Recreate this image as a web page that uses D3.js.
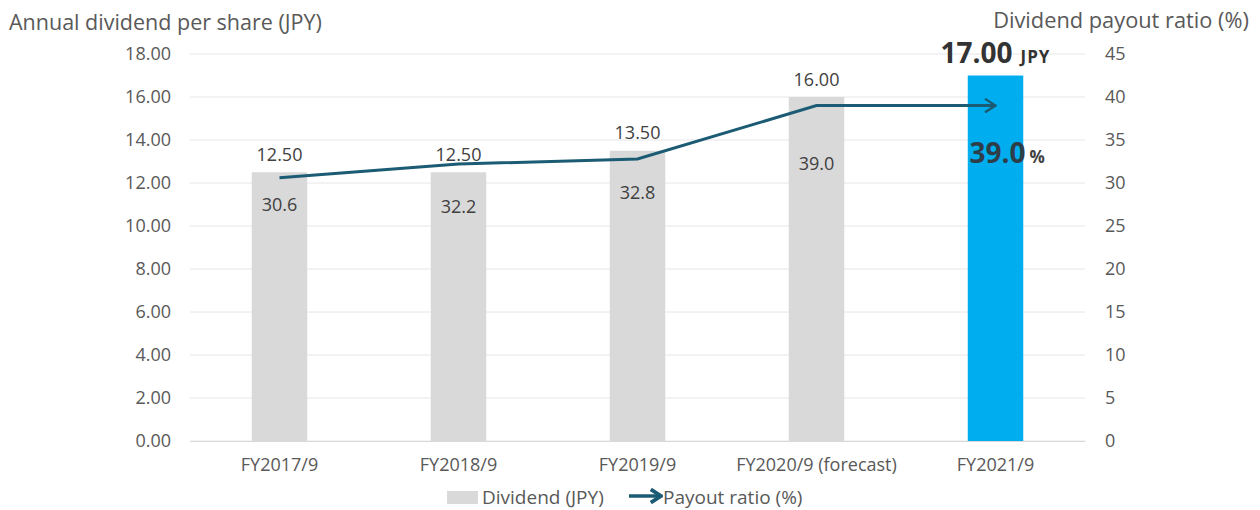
<!DOCTYPE html>
<html><head><meta charset="utf-8">
<script src="https://cdn.jsdelivr.net/npm/d3@7"></script>
<style>
body{margin:0;background:#fff;}
text{font-family:"Open Sans","Noto Sans",sans-serif;}
</style></head>
<body><svg id="c" width="1260" height="510"></svg>
<script>
const categories = ["FY2017/9","FY2018/9","FY2019/9","FY2020/9 (forecast)","FY2021/9"];
const dividends = [12.50, 12.50, 13.50, 16.00, 17.00];
const payout = [30.6, 32.2, 32.8, 39.0, 39.0];
const leftTicks = [0,2,4,6,8,10,12,14,16,18];
const rightTicks = [0,5,10,15,20,25,30,35,40,45];
const ratioLabelOffsets = [33, 49, 40, 64]; // label baseline displacement below line (px)

const svg = d3.select("#c");
const L = 190, R = 1085, T = 54, B = 441;
const x = d3.scaleBand().domain(categories).range([L, R]).paddingInner(0.69).paddingOuter(0.345);
const yL = d3.scaleLinear().domain([0,18]).range([B,T]);
const yR = d3.scaleLinear().domain([0,45]).range([B,T]);
const grey = "#595959", lab = "#404040", lineCol = "#1b5b73";
const FF = "'Open Sans',sans-serif";

// gridlines
svg.append("g").selectAll("line").data(leftTicks).join("line")
  .attr("x1", L).attr("x2", R).attr("y1", d=>yL(d)).attr("y2", d=>yL(d))
  .attr("stroke", "#e6e6e6").attr("stroke-width", 1);

// left axis
const gl = svg.append("g").attr("transform", `translate(${L},0)`)
  .call(d3.axisLeft(yL).tickValues(leftTicks).tickFormat(d3.format(".2f")).tickSize(0).tickPadding(19));
gl.select(".domain").remove();
gl.selectAll("text").attr("font-size", 18).attr("fill", grey).attr("font-family", FF);

// right axis
const gr = svg.append("g").attr("transform", `translate(${R},0)`)
  .call(d3.axisRight(yR).tickValues(rightTicks).tickSize(0).tickPadding(20));
gr.select(".domain").remove();
gr.selectAll("text").attr("font-size", 18).attr("fill", grey).attr("font-family", FF);

// x axis
const gx = svg.append("g").attr("transform", `translate(0,${B})`)
  .call(d3.axisBottom(x).tickSize(0).tickPadding(17));
gx.select(".domain").attr("stroke", "#d9d9d9");
gx.selectAll("text").attr("font-size", 18).attr("fill", grey).attr("font-family", FF);

// titles
svg.append("text").attr("x", 9).attr("y", 30).attr("font-size", 21.5).attr("fill", grey)
  .text("Annual dividend per share (JPY)");
svg.append("text").attr("x", 1249).attr("y", 28).attr("text-anchor", "end").attr("font-size", 21.8).attr("fill", grey)
  .text("Dividend payout ratio (%)");

// bars
const last = categories.length - 1;
svg.append("g").selectAll("rect").data(dividends).join("rect")
  .attr("x", (d,i)=>x(categories[i])).attr("width", x.bandwidth())
  .attr("y", d=>yL(d)).attr("height", d=>B - yL(d))
  .attr("fill", (d,i)=> i===last ? "#00aeef" : "#d9d9d9");

// dividend labels
svg.append("g").selectAll("text").data(dividends.slice(0,last)).join("text")
  .attr("x", (d,i)=>x(categories[i]) + x.bandwidth()/2)
  .attr("y", d=>yL(d) - 11.5).attr("text-anchor", "middle")
  .attr("font-size", 18).attr("fill", lab).text(d=>d3.format(".2f")(d));

// highlighted label
const hx = x(categories[last]) + x.bandwidth()/2;
const hl = svg.append("text").attr("x", hx - 55).attr("y", yL(dividends[last]) - 13).attr("fill", "#333");
hl.append("tspan").attr("font-size", 28).attr("font-weight", "bold").text(d3.format(".2f")(dividends[last]));
hl.append("tspan").attr("font-size", 17).attr("font-weight", "bold").attr("dx", 8).attr("letter-spacing", 1).text("JPY");

// arrow markers
const defs = svg.append("defs");
defs.append("marker").attr("id","arr").attr("viewBox","0 0 10 10").attr("refX",9).attr("refY",5)
  .attr("markerWidth",5).attr("markerHeight",5).attr("markerUnits","strokeWidth").attr("orient","auto")
  .append("path").attr("d","M2,0.5 L9,5 L2,9.5").attr("fill","none").attr("stroke",lineCol).attr("stroke-width",1.6);
defs.append("marker").attr("id","arrL").attr("viewBox","0 0 10 10").attr("refX",9).attr("refY",5)
  .attr("markerWidth",4.5).attr("markerHeight",4.5).attr("markerUnits","strokeWidth").attr("orient","auto")
  .append("path").attr("d","M2.5,0.8 L9,5 L2.5,9.2").attr("fill","none").attr("stroke",lineCol).attr("stroke-width",2.4);

// line
const pts = payout.map((v,i)=>[x(categories[i]) + x.bandwidth()/2, yR(v)]);
svg.append("path").datum(pts).attr("d", d3.line()).attr("fill","none")
  .attr("stroke",lineCol).attr("stroke-width",3).attr("marker-end","url(#arr)");

// ratio labels
svg.append("g").selectAll("text").data(payout.slice(0,last)).join("text")
  .attr("x", (d,i)=>x(categories[i]) + x.bandwidth()/2)
  .attr("y", (d,i)=>yR(d) + ratioLabelOffsets[i]).attr("text-anchor","middle")
  .attr("font-size", 18).attr("fill", lab).text(d=>d3.format(".1f")(d));
const rl = svg.append("text").attr("x", hx - 26).attr("y", yR(payout[last]) + 57);
rl.append("tspan").attr("font-size", 28).attr("font-weight","bold").attr("fill","#2e3d48").text(d3.format(".1f")(payout[last]));
rl.append("tspan").attr("font-size", 17).attr("font-weight","bold").attr("fill",lab).attr("dx", 4).text("%");

// legend
const lg = svg.append("g");
lg.append("rect").attr("x", 447).attr("y", 491).attr("width", 31).attr("height", 13).attr("fill", "#d9d9d9");
lg.append("text").attr("x", 482).attr("y", 504).attr("font-size", 19).attr("fill", grey).text("Dividend (JPY)");
lg.append("line").attr("x1", 629).attr("x2", 661).attr("y1", 496).attr("y2", 496)
  .attr("stroke",lineCol).attr("stroke-width",3.5).attr("marker-end","url(#arrL)");
lg.append("text").attr("x", 663).attr("y", 504).attr("font-size", 19).attr("fill", grey).text("Payout ratio (%)");
</script></body></html>
